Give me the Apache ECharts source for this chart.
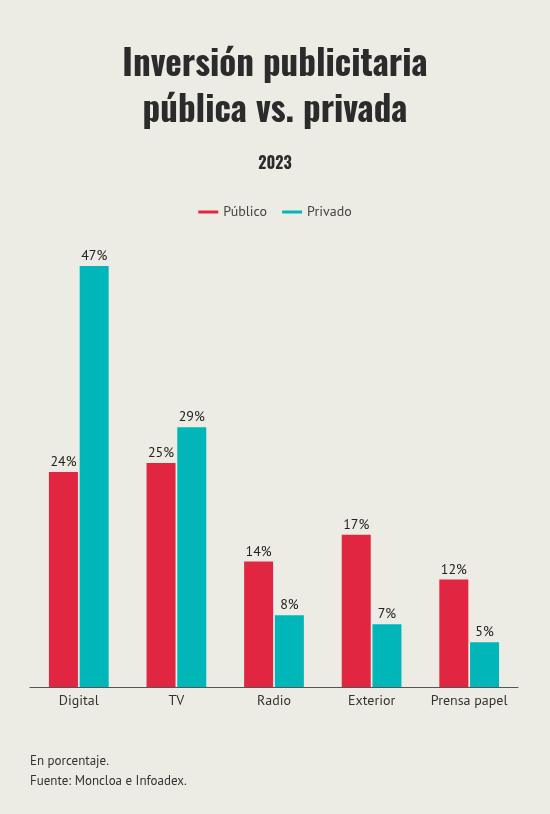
<!DOCTYPE html>
<html>
<head>
<meta charset="utf-8">
<script src="https://cdn.jsdelivr.net/npm/echarts@6/dist/echarts.min.js"></script>
<style>
html,body{margin:0;padding:0;background:#EDECE4;}
#c{width:550px;height:814px;}
</style>
</head>
<body>
<div id="c"></div>
<script>
const categories = ['Digital', 'TV', 'Radio', 'Exterior', 'Prensa papel'];
const publico = [24, 25, 14, 17, 12];
const privado = [47, 29, 8, 7, 5];
const seriesNames = ['Público', 'Privado'];

const titleFont = "'Oswald','Liberation Sans Narrow','DejaVu Sans Condensed','DejaVu Sans',sans-serif";
const bodyFont = "'PT Sans','Noto Sans','Open Sans',sans-serif";

const chart = echarts.init(document.getElementById('c'));
chart.setOption({
  backgroundColor: '#EDECE4',
  animation: false,
  title: [
    {
      text: 'Inversión publicitaria\npública vs. privada',
      left: 'center', top: 37,
      textStyle: { fontFamily: titleFont, fontWeight: 'bold', fontSize: 35, lineHeight: 46, color: '#2b2b2b' }
    },
    {
      text: '2023',
      left: 'center', top: 151,
      textStyle: { fontFamily: titleFont, fontWeight: 'bold', fontSize: 16, color: '#2b2b2b' }
    },
    {
      text: 'En porcentaje.\nFuente: Moncloa e Infoadex.',
      left: 25, top: 746,
      textStyle: { fontFamily: bodyFont, fontWeight: 'normal', fontSize: 13, lineHeight: 20, color: '#333' }
    }
  ],
  legend: {
    top: 200, left: 'center',
    itemWidth: 20, itemHeight: 3, itemGap: 15,
    icon: 'rect',
    textStyle: { fontFamily: bodyFont, fontSize: 14, color: '#444' },
    data: seriesNames
  },
  grid: { left: 30, right: 32, top: 266, bottom: 127, containLabel: false },
  xAxis: {
    type: 'category', data: categories,
    axisLine: { lineStyle: { color: '#555', width: 1 } },
    axisTick: { show: false },
    axisLabel: { interval: 0, fontFamily: bodyFont, fontSize: 14, color: '#333', margin: 7 }
  },
  yAxis: {
    type: 'value', min: 0, max: 47,
    show: false, splitLine: { show: false }
  },
  series: [
    {
      name: seriesNames[0], type: 'bar', data: publico,
      barWidth: 29, barGap: '6%',
      itemStyle: { color: '#E12641' },
      label: { show: true, position: 'top', formatter: '{c}%', fontFamily: bodyFont, fontSize: 14, color: '#222', distance: 3 }
    },
    {
      name: seriesNames[1], type: 'bar', data: privado,
      barWidth: 29, barGap: '6%',
      itemStyle: { color: '#00B6B9' },
      label: { show: true, position: 'top', formatter: '{c}%', fontFamily: bodyFont, fontSize: 14, color: '#222', distance: 3 }
    }
  ]
});
</script>
</body>
</html>
